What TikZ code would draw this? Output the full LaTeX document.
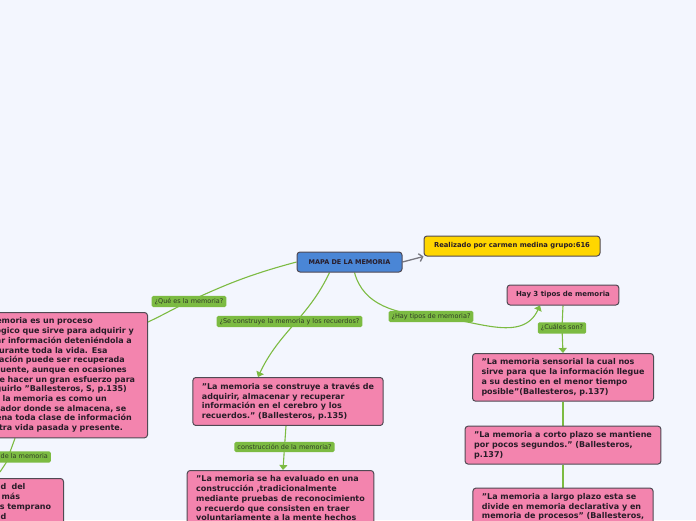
\documentclass[tikz,border=0pt]{standalone}
\usepackage{fontspec}
\setmainfont{DejaVu Sans}
\usetikzlibrary{positioning,calc,backgrounds,arrows.meta}
\definecolor{fondo}{RGB}{243,246,254}
\definecolor{rosa}{RGB}{243,132,174}
\definecolor{verde}{RGB}{124,187,66}
\definecolor{azul}{RGB}{74,134,214}
\definecolor{amarillo}{RGB}{255,214,0}
\definecolor{borde}{RGB}{80,74,84}
\definecolor{tinta}{RGB}{40,28,40}
\definecolor{etiq}{RGB}{48,60,38}
\definecolor{gris}{RGB}{120,120,128}
\newcommand\letracaja{\fontsize{8}{9.7}\selectfont\bfseries}
\newcommand\letraetiq{\fontsize{6.5}{7.6}\selectfont}
\tikzset{
  caja/.style={draw=borde, line width=1pt, rounded corners=3pt, text=tinta,
    align=left, inner xsep=9pt, inner ysep=5.4pt},
  cajarosa/.style={caja, fill=rosa, font=\letracaja},
  cajacorta/.style={caja, minimum height=20pt, inner ysep=2pt, align=center},
  etiqueta/.style={fill=verde, rounded corners=1.5pt, text=etiq, font=\letraetiq,
    inner xsep=3pt, inner ysep=2.4pt},
  enlace/.style={draw=verde, line width=1.1pt},
}
\begin{document}
\begin{tikzpicture}[x=1pt,y=-1pt, line join=round, line cap=round, >={Triangle[width=8pt,length=5pt]}]
\useasboundingbox (0,0) rectangle (696,520);
\clip (0,0) rectangle (696,520);
% nodo central y autor
\node[cajacorta, fill=azul, minimum width=105pt, font=\fontsize{6.5}{8}\selectfont\bfseries] (mapa) at (349.5,262) {MAPA DE LA MEMORIA};
\node[cajacorta, fill=amarillo, minimum width=176pt, font=\fontsize{6.8}{8}\selectfont\bfseries] (autor) at (512,246) {Realizado por carmen medina grupo:616};
% tipos de memoria
\node[cajacorta, fill=rosa, minimum width=110pt, font=\fontsize{7}{8}\selectfont\bfseries] (tipos) at (563,295) {Hay 3 tipos de memoria};
\node[cajarosa, anchor=north] (sensorial) at (563,353) {"La memoria sensorial la cual nos\\sirve para que la información llegue\\a su destino en el menor tiempo\\posible"(Ballesteros, p.137)};
\node[cajarosa, below=24pt of sensorial] (corto) {"La memoria a corto plazo se mantiene\\por pocos segundos." (Ballesteros,\\p.137)};
\node[cajarosa, below=23pt of corto] (largo) {"La memoria a largo plazo esta se\\divide en memoria declarativa y en\\memoria de procesos" (Ballesteros,\\p.137)};
% construccion
\node[cajarosa, anchor=north] (construye) at (288,377) {"La memoria se construye a través de\\adquirir, almacenar y recuperar\\información en el cerebro y los\\recuerdos." (Ballesteros, p.135)};
\node[cajarosa, anchor=north] (evaluada) at (280.5,470) {"La memoria se ha evaluado en una\\construcción ,tradicionalmente\\mediante pruebas de reconocimiento\\o recuerdo que consisten en traer\\voluntariamente a la mente hechos\\o sucesos del pasado."};
% definicion
\node[cajarosa, anchor=north east, text width=169pt] (definicion) at (148,312) {"La memoria es un proceso\\psicológico que sirve para adquirir y\\guardar información deteniéndola a\\años durante toda la vida. Esa\\información puede ser recuperada\\consecuente, aunque en ocasiones\\hay que hacer un gran esfuerzo para\\conseguirlo "Ballesteros, S, p.135)\\Aparte la memoria es como un\\recopilador donde se almacena, se\\almacena toda clase de información\\a nuestra vida pasada y presente.};
\node[cajarosa, anchor=north east, text width=95pt] (capacidad) at (64,478) {Capacidad\ \ del\\cerebros más\\recuerdos temprano\\de la edad};
% etiquetas
\node[etiqueta] (qes) at (189,301.5) {¿Qué es la memoria?};
\node[etiqueta] (secons) at (289.5,321.5) {¿Se construye la memoria y los recuerdos?};
\node[etiqueta] (haytipos) at (431,316.5) {¿Hay tipos de memoria?};
\node[etiqueta] (cuales) at (562,328) {¿Cuáles son?};
\node[etiqueta] (constr) at (284.5,447) {construcción de la memoria?};
\node[etiqueta, anchor=east] (capac) at (51,457) {Capacidad de la memoria};
% conexiones
\begin{scope}[on background layer]
\fill[fondo] (0,0) rectangle (696,520);
\clip (0,0) rectangle (696,520);
\draw[gris, line width=1.3pt, -{Straight Barb[length=3.5pt,width=8pt]}] (mapa.east) -- (autor.south west);
\draw[enlace] (mapa.west) to[out=195,in=25] (qes.center) to[out=205,in=25] ($(definicion.north east)+(0,10)$);
\draw[enlace, ->] ($(mapa.south)+(-20,0)$) to[out=-115,in=65] ($(construye.north)+(-30,0)$);
\draw[enlace] ($(mapa.south)+(5,0)$) to[out=-75,in=175] (haytipos.center);
\draw[enlace, ->] (haytipos.center) to[out=-3,in=-115] ($(tipos.south)+(-23,0)$);
\draw[enlace, ->] (tipos.south) -- (cuales.center) -- (sensorial.north);
\draw[enlace] (sensorial.south) -- (corto.north);
\draw[enlace] (corto.south) -- (largo.north);
\draw[enlace, ->] ($(construye.south)+(-2,0)$) -- (constr.center) -- ($(evaluada.north)+(2.5,0)$);
\draw[enlace] ($(definicion.south east)+(-133,0)$) -- (capac.center |- capac.south) -- ($(capacidad.north east)+(-64,-6)$);
\end{scope}
\end{tikzpicture}
\end{document}
